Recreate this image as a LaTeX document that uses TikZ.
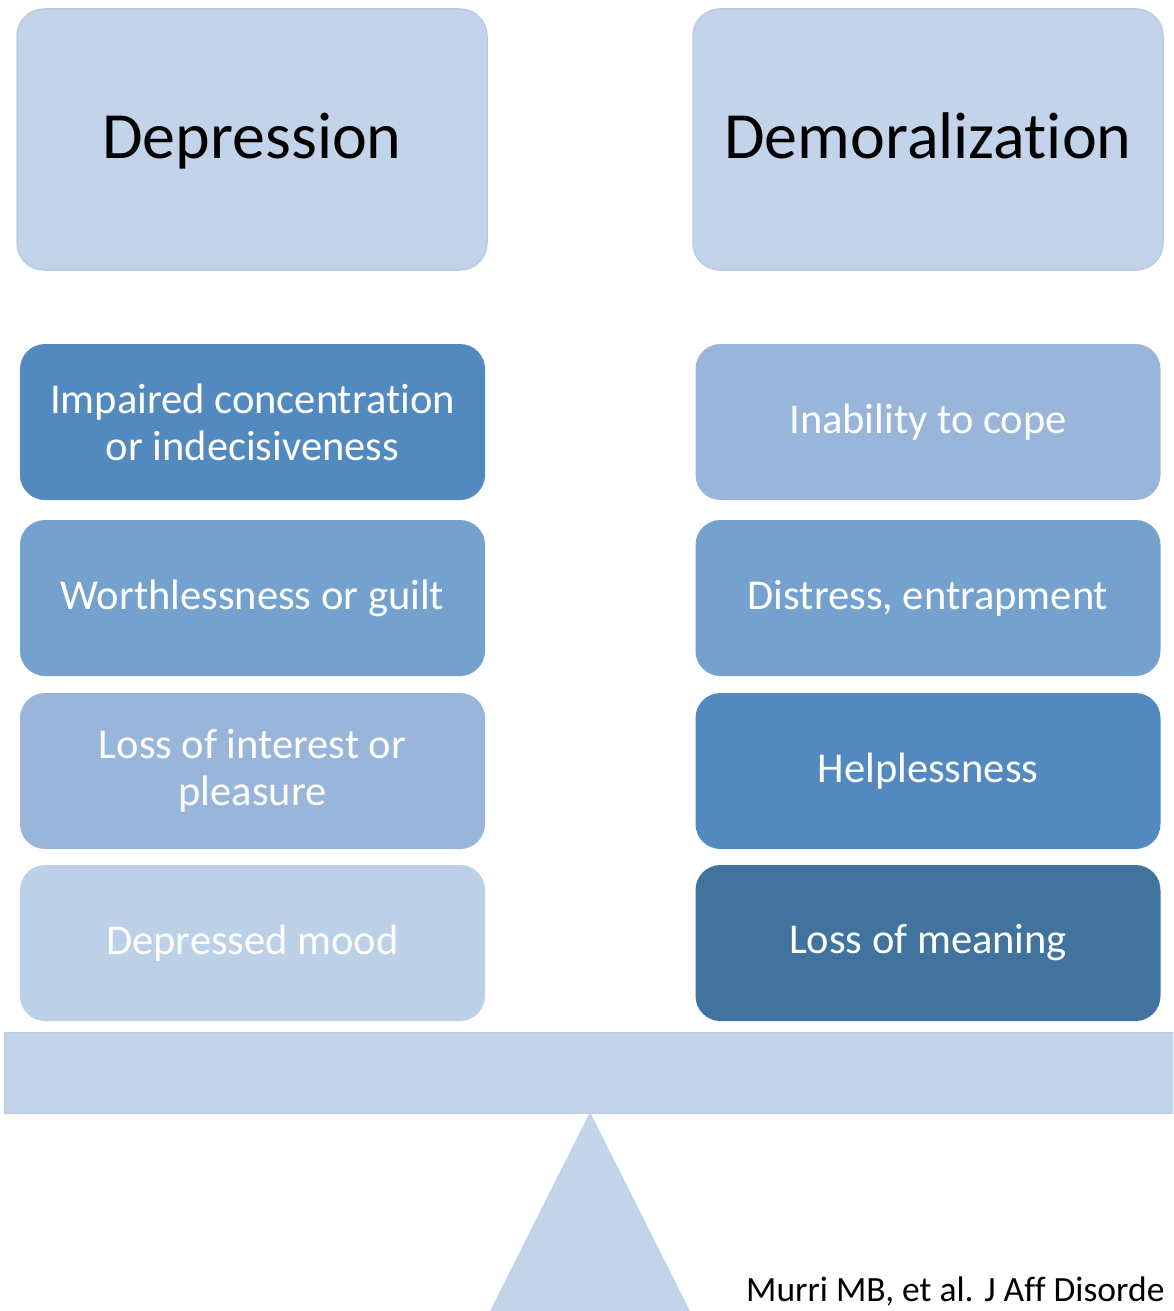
\documentclass[tikz,border=0pt]{standalone}
\usepackage{fontspec}
\setmainfont[Ligatures={NoCommon}]{Carlito}
\definecolor{pale}{HTML}{C3D4EA}
\definecolor{paleline}{HTML}{B8CCE6}
\definecolor{tone1}{HTML}{BCD0E8}
\definecolor{tone2}{HTML}{99B6DA}
\definecolor{tone3}{HTML}{75A1CE}
\definecolor{tone4}{HTML}{5289BF}
\definecolor{tone5}{HTML}{42729E}
\begin{document}
\begin{tikzpicture}[x=1pt, y=-1pt, inner sep=0pt,
  head/.style = {fill=pale, draw=paleline, line width=1.5pt, rounded corners=27pt, minimum width=470pt, minimum height=261pt, text height=50pt, text depth=13pt, font=\fontsize{66}{80}\selectfont},
  item/.style = {fill=#1, rounded corners=25pt, minimum width=465pt, minimum height=156pt, text=white, align=center, font=\fontsize{42.5}{47}\selectfont}]
\useasboundingbox (0,0) rectangle (1173,1311);
\clip (0,0) rectangle (1173,1311);
\node[head] (dep) at (252,139.5) {Depression};
\node[head] (demo) at (928,139.5) {Demoralization};
\node[item=tone4] (d1) at (252.5,422) {Impaired concentration\\or indecisiveness};
\node[item=tone3] (d2) at (252.5,598) {Worthlessness or guilt};
\node[item=tone2] (d3) at (252.5,771) {Loss of interest or\\pleasure};
\node[item=tone1] (d4) at (252.5,943) {Depressed mood};
\node[item=tone2] (m1) at (928,422) {Inability to cope};
\node[item=tone3] (m2) at (928,598) {Distress, entrapment};
\node[item=tone4] (m3) at (928,771) {Helplessness};
\node[item=tone5] (m4) at (928,943) {Loss of meaning};
\node[fill=pale, draw=paleline, minimum width=1200pt, minimum height=81pt, anchor=north west] (beam) at (4,1032) {};
\coordinate (tip) at (590,1112);
\fill[pale] (tip) -- (490,1311) -- (690,1311) -- cycle;
\node[anchor=base west, font=\fontsize{35.5}{42}\selectfont] (cite) at (746,1301) {Murri MB, et al. J Aff Disorde};
\end{tikzpicture}
\end{document}
